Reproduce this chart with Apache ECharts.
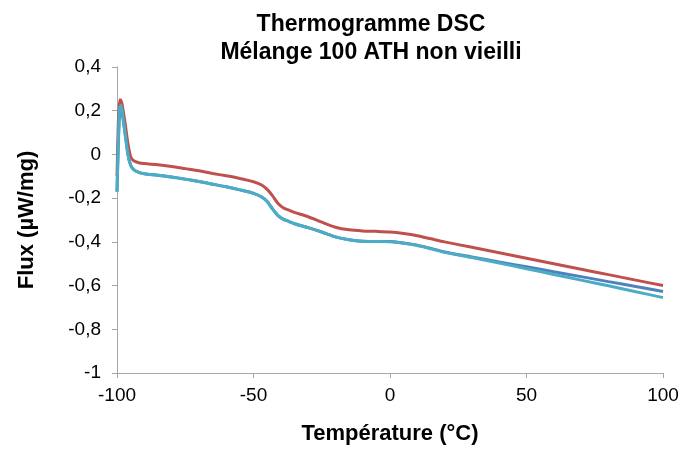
<!DOCTYPE html>
<html>
<head>
<meta charset="utf-8">
<script src="https://cdn.jsdelivr.net/npm/echarts@6/dist/echarts.min.js"></script>
<style>
  html, body { margin: 0; padding: 0; background: #fff; }
  #dscchart { width: 683px; height: 450px; }
</style>
</head>
<body>
<div id="dscchart"></div>
<script>
// températures (°C)
var temperature = [-100, -99.5, -99, -98.5, -98, -97, -96, -95, -94, -92, -90, -85, -80, -75, -70, -65, -60, -55, -50, -47, -45, -43, -41, -39, -37, -35, -30, -25, -20, -15, -10, -5, 0, 5, 10, 15, 20, 30, 40, 50, 60, 70, 80, 90, 100];
// flux (µW/mg), une liste par courbe
var fluxRouge = [-0.10, 0.15, 0.25, 0.245, 0.22, 0.14, 0.05, -0.01, -0.028, -0.038, -0.042, -0.047, -0.055, -0.065, -0.075, -0.087, -0.098, -0.11, -0.125, -0.14, -0.16, -0.19, -0.225, -0.245, -0.255, -0.265, -0.285, -0.31, -0.333, -0.345, -0.35, -0.352, -0.355, -0.362, -0.372, -0.386, -0.40, -0.425, -0.45, -0.475, -0.50, -0.525, -0.55, -0.575, -0.60];
var fluxBleu = [-0.17, 0.05, 0.20, 0.21, 0.18, 0.09, 0.0, -0.05, -0.068, -0.082, -0.088, -0.095, -0.103, -0.113, -0.124, -0.136, -0.148, -0.162, -0.178, -0.195, -0.215, -0.25, -0.28, -0.297, -0.307, -0.317, -0.335, -0.355, -0.377, -0.39, -0.397, -0.398, -0.398, -0.405, -0.415, -0.43, -0.446, -0.469, -0.492, -0.514, -0.537, -0.559, -0.582, -0.604, -0.627];
var fluxCyan = [-0.17, 0.06, 0.215, 0.225, 0.19, 0.095, 0.0, -0.05, -0.068, -0.082, -0.088, -0.095, -0.103, -0.113, -0.124, -0.136, -0.148, -0.162, -0.178, -0.195, -0.215, -0.25, -0.28, -0.297, -0.307, -0.317, -0.335, -0.355, -0.377, -0.39, -0.397, -0.398, -0.399, -0.406, -0.417, -0.432, -0.448, -0.472, -0.497, -0.523, -0.549, -0.575, -0.601, -0.628, -0.655];

function pairs (ys) {
  return temperature.map(function (t, i) { return [t, ys[i]]; });
}

var chart = echarts.init(document.getElementById('dscchart'));
var axisGray = '#a6a6a6';
var font = 'Liberation Sans';
var lineBase = { type: 'line', showSymbol: false, smooth: 0.25 };

chart.setOption({
  animation: false,
  title: {
    text: 'Thermogramme DSC\nMélange 100 ATH non vieilli',
    left: 366,
    top: 6,
    textAlign: 'center',
    textStyle: { fontFamily: font, fontWeight: 'bold', fontSize: 23, lineHeight: 28, color: '#000' }
  },
  grid: { left: 117, right: 20, top: 67, bottom: 74 },
  xAxis: {
    type: 'value', min: -100, max: 100, interval: 50,
    name: 'Température (°C)', nameLocation: 'middle', nameGap: 50,
    nameTextStyle: { fontFamily: font, fontWeight: 'bold', fontSize: 22, color: '#000' },
    axisLine: { show: true, onZero: false, lineStyle: { color: axisGray } },
    axisTick: { show: true, length: 5, lineStyle: { color: axisGray } },
    axisLabel: { fontFamily: font, fontSize: 19, color: '#000', margin: 13 },
    splitLine: { show: false }
  },
  yAxis: {
    type: 'value', min: -1, max: 0.4, interval: 0.2,
    name: 'Flux (µW/mg)', nameLocation: 'middle', nameGap: 79,
    nameTextStyle: { fontFamily: font, fontWeight: 'bold', fontSize: 22, color: '#000' },
    axisLine: { show: true, onZero: false, lineStyle: { color: axisGray } },
    axisTick: { show: true, length: 5, lineStyle: { color: axisGray } },
    axisLabel: {
      fontFamily: font, fontSize: 19, color: '#000', margin: 16,
      formatter: function (v) { return String(Math.round(v * 10) / 10).replace('.', ','); }
    },
    splitLine: { show: false }
  },
  series: [
    Object.assign({ name: 'rouge', data: pairs(fluxRouge), lineStyle: { color: '#C0504D', width: 3 }, itemStyle: { color: '#C0504D' } }, lineBase),
    Object.assign({ name: 'bleu', data: pairs(fluxBleu), lineStyle: { color: '#4F81BD', width: 3 }, itemStyle: { color: '#4F81BD' } }, lineBase),
    Object.assign({ name: 'cyan', data: pairs(fluxCyan), lineStyle: { color: '#4BACC6', width: 3 }, itemStyle: { color: '#4BACC6' } }, lineBase)
  ]
});
</script>
</body>
</html>
